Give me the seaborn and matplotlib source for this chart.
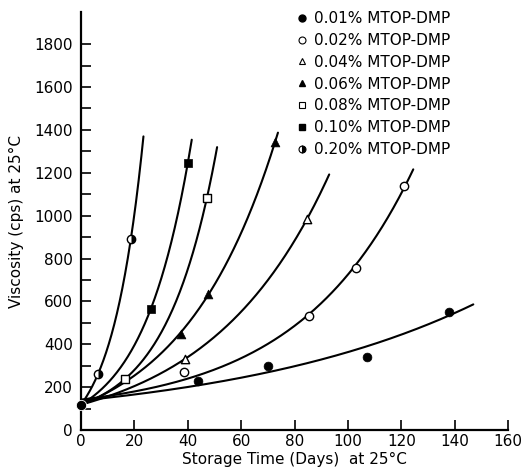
import numpy as np
import pandas as pd
import matplotlib
matplotlib.use("Agg")
import matplotlib.pyplot as plt
from matplotlib import font_manager
from matplotlib.lines import Line2D
from matplotlib.markers import MarkerStyle
import seaborn as sns

# Viscosity at 25 °C versus storage time for each MTOP-DMP level
labels = ["0.01% MTOP-DMP", "0.02% MTOP-DMP", "0.04% MTOP-DMP", "0.06% MTOP-DMP",
          "0.08% MTOP-DMP", "0.10% MTOP-DMP", "0.20% MTOP-DMP"]

start_day = 0.0
start_visc = 118.0

days_001 = [43.8, 70.0, 107.0, 138.0]
visc_001 = [229, 299, 341, 552]

days_002 = [38.6, 85.4, 103.0, 121.0]
visc_002 = [271, 533, 757, 1136]

days_004 = [39.0, 84.6]
visc_004 = [332, 982]

days_006 = [37.5, 47.6, 72.7]
visc_006 = [449, 636, 1342]

days_008 = [16.5, 47.2]
visc_008 = [238, 1084]

days_010 = [26.2, 40.0]
visc_010 = [566, 1244]

days_020 = [6.4, 18.7]
visc_020 = [262, 893]

# last day reached by each fitted curve
curve_end = [147.0, 124.5, 93.0, 73.8, 51.0, 41.5, 23.4]

series_days = [days_001, days_002, days_004, days_006, days_008, days_010, days_020]
series_visc = [visc_001, visc_002, visc_004, visc_006, visc_008, visc_010, visc_020]

markers = ["o", "o", "^", "^", "s", "s", "o"]
filled = ["full", "none", "none", "full", "none", "full", "right"]


def fit_growth(t, v):
    """Least-squares fit of v = a + b*exp(k*t)."""
    best = None
    for k in np.linspace(0.002, 0.25, 2500):
        X = np.column_stack([np.ones_like(t), np.exp(k * t)])
        coef, *_ = np.linalg.lstsq(X, v, rcond=None)
        err = np.sum((X @ coef - v) ** 2)
        if best is None or err < best[0]:
            best = (err, coef[0], coef[1], k)
    return best[1:]


sns.set_theme(style="ticks")
names = {f.name for f in font_manager.fontManager.ttflist}
family = "Liberation Sans Narrow" if "Liberation Sans Narrow" in names else "DejaVu Sans"
plt.rcParams["font.family"] = [family, "DejaVu Sans"]
plt.rcParams["axes.linewidth"] = 1.6
plt.rcParams["text.color"] = "black"
plt.rcParams["axes.labelcolor"] = "black"
plt.rcParams["axes.edgecolor"] = "black"

fig = plt.figure(figsize=(5.29, 4.71), dpi=100)
ax = fig.add_axes([81 / 529, 41 / 471, 427 / 529, 418 / 471])

curve_frames = []
point_frames = []
for i, lab in enumerate(labels):
    t = np.array([start_day] + series_days[i], dtype=float)
    v = np.array([start_visc] + series_visc[i], dtype=float)
    a, b, k = fit_growth(t, v)
    tt = np.linspace(0, curve_end[i], 300)
    curve_frames.append(pd.DataFrame({"day": tt, "visc": a + b * np.exp(k * tt), "series": lab}))
    point_frames.append(pd.DataFrame({"day": series_days[i], "visc": series_visc[i], "series": lab}))

curves = pd.concat(curve_frames, ignore_index=True)
points = pd.concat(point_frames, ignore_index=True)

sns.lineplot(data=curves, x="day", y="visc", units="series", estimator=None,
             sort=False, color="black", linewidth=1.5, ax=ax, legend=False)

for i, lab in enumerate(labels):
    sub = points[points["series"] == lab]
    if filled[i] == "right":
        sns.scatterplot(data=sub, x="day", y="visc", marker="o", s=36,
                        facecolor="white", edgecolor="black", linewidth=1.0,
                        ax=ax, legend=False, zorder=5)
        sns.scatterplot(data=sub, x="day", y="visc",
                        marker=MarkerStyle("o", fillstyle="right"), s=36,
                        color="black", linewidth=0, ax=ax, legend=False, zorder=6)
    elif filled[i] == "none":
        sns.scatterplot(data=sub, x="day", y="visc", marker=markers[i], s=36,
                        facecolor="white", edgecolor="black", linewidth=1.0,
                        ax=ax, legend=False, zorder=5)
    else:
        sns.scatterplot(data=sub, x="day", y="visc", marker=markers[i], s=40,
                        color="black", edgecolor="black", linewidth=0.5,
                        ax=ax, legend=False, zorder=5)

# shared starting viscosity
sns.scatterplot(x=[start_day], y=[start_visc], marker="o", s=55, color="black",
                ax=ax, legend=False, zorder=6, clip_on=False)

ax.set_xlim(0, 160)
ax.set_ylim(0, 1950)
ax.set_xticks(np.arange(0, 161, 20))
ax.set_yticks(np.arange(0, 1801, 200))
ax.set_yticks(np.arange(100, 1701, 200), minor=True)
ax.tick_params(axis="both", which="both", direction="in", length=7, width=1.2,
               labelsize=11, colors="black")
ax.tick_params(axis="y", pad=6)
ax.tick_params(axis="x", pad=3)
sns.despine(ax=ax)

ax.set_xlabel("Storage Time (Days)  at 25°C", fontsize=11, labelpad=2)
ax.set_ylabel("Viscosity (cps) at 25°C", fontsize=11, labelpad=7)

handles = []
for i, lab in enumerate(labels):
    if filled[i] == "right":
        h = Line2D([], [], linestyle="none", marker="o", markersize=5,
                   markerfacecolor="black", markerfacecoloralt="white",
                   fillstyle="right", markeredgecolor="black", markeredgewidth=0.8)
    elif filled[i] == "none":
        h = Line2D([], [], linestyle="none", marker=markers[i], markersize=5,
                   markerfacecolor="white", markeredgecolor="black", markeredgewidth=0.8)
    else:
        h = Line2D([], [], linestyle="none", marker=markers[i], markersize=5,
                   markerfacecolor="black", markeredgecolor="black")
    handles.append(h)

fig.legend(handles, labels, loc="upper left", bbox_to_anchor=(296 / 529, 1 - 11 / 471),
           frameon=False, fontsize=11, handlelength=0.8, handletextpad=0.4,
           labelspacing=0.45, borderpad=0, borderaxespad=0, labelcolor="black")

fig.savefig("out.png", dpi=100)
